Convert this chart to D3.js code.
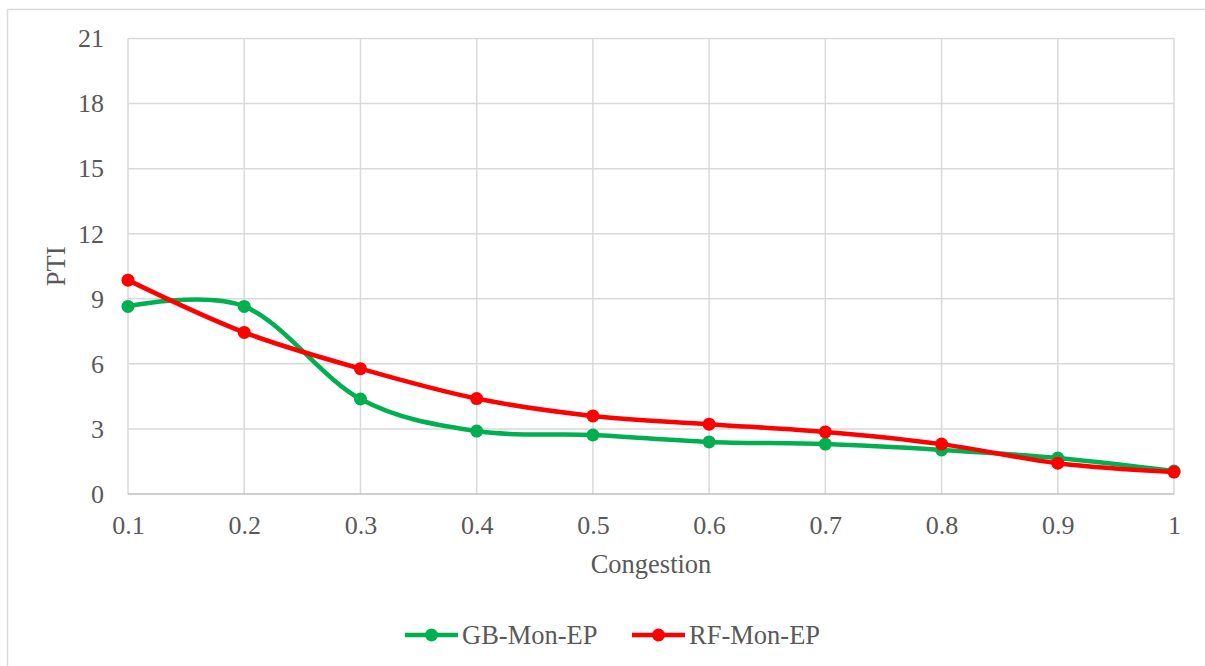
<!DOCTYPE html>
<html>
<head>
<meta charset="utf-8">
<script src="https://cdn.jsdelivr.net/npm/d3@7"></script>
<style>
  html, body { margin: 0; padding: 0; background: #fff; }
  svg { display: block; }
  text { font-family: "Liberation Serif", "Times New Roman", serif; fill: #595959; }
</style>
</head>
<body>
<svg id="chart" width="1205" height="666"></svg>
<script>
const congestion = [0.1, 0.2, 0.3, 0.4, 0.5, 0.6, 0.7, 0.8, 0.9, 1];
const gbMonEP = [8.65, 8.65, 4.38, 2.9, 2.72, 2.4, 2.3, 2.03, 1.66, 1.06];
const rfMonEP = [9.86, 7.45, 5.78, 4.4, 3.6, 3.22, 2.86, 2.3, 1.42, 1.01];
const yTicks = [0, 3, 6, 9, 12, 15, 18, 21];
const xTickLabels = ["0.1", "0.2", "0.3", "0.4", "0.5", "0.6", "0.7", "0.8", "0.9", "1"];
const seriesNames = ["GB-Mon-EP", "RF-Mon-EP"];
const seriesColors = ["#00B050", "#FF0000"];

const svg = d3.select("#chart");
const pLeft = 128, pRight = 1174, pTop = 38.5, pBottom = 494;

// outer chart border
svg.append("rect")
  .attr("x", 7.5).attr("y", 9.5)
  .attr("width", 1300).attr("height", 700)
  .attr("fill", "none").attr("stroke", "#d9d9d9").attr("stroke-width", 1.5);

const x = d3.scaleLinear().domain([0.1, 1]).range([pLeft, pRight]);
const y = d3.scaleLinear().domain([0, 21]).range([pBottom, pTop]);

// gridlines
const g = svg.append("g");
g.selectAll("line.hg").data(yTicks.filter(d => d > 0)).enter().append("line")
  .attr("x1", pLeft).attr("x2", pRight)
  .attr("y1", d => y(d)).attr("y2", d => y(d))
  .attr("stroke", "#d9d9d9").attr("stroke-width", 1.5);
g.selectAll("line.vg").data(congestion).enter().append("line")
  .attr("x1", d => x(d)).attr("x2", d => x(d))
  .attr("y1", pTop).attr("y2", pBottom)
  .attr("stroke", "#d9d9d9").attr("stroke-width", 1.5);
// x axis line
g.append("line").attr("x1", pLeft).attr("x2", pRight)
  .attr("y1", y(0)).attr("y2", y(0))
  .attr("stroke", "#bfbfbf").attr("stroke-width", 1.5);

// y axis labels
const yAxis = d3.axisLeft(y).tickValues(yTicks).tickSize(0).tickPadding(24).tickFormat(d3.format("d"));
svg.append("g").attr("transform", `translate(${pLeft},0)`).call(yAxis)
  .call(s => s.select(".domain").remove())
  .selectAll("text").attr("font-size", 26).attr("fill", "#595959")
  .attr("font-family", "Liberation Serif");

// x axis labels
const xAxis = d3.axisBottom(x).tickValues(congestion).tickSize(0).tickPadding(22)
  .tickFormat((d, i) => xTickLabels[i]);
svg.append("g").attr("transform", `translate(0,${pBottom})`).call(xAxis)
  .call(s => s.select(".domain").remove())
  .selectAll("text").attr("font-size", 26).attr("fill", "#595959")
  .attr("font-family", "Liberation Serif");

// axis titles
svg.append("text").attr("x", (pLeft + pRight) / 2).attr("y", 573)
  .attr("text-anchor", "middle").attr("font-size", 26.5).text("Congestion");
svg.append("text").attr("transform", `translate(65,${(pTop + pBottom) / 2}) rotate(-90)`)
  .attr("text-anchor", "middle").attr("font-size", 26.5).text("PTI");

// series
const line = d3.line().x((d, i) => x(congestion[i])).y(d => y(d)).curve(d3.curveCardinal.tension(0));
[gbMonEP, rfMonEP].forEach((vals, si) => {
  svg.append("path").datum(vals)
    .attr("d", line).attr("fill", "none")
    .attr("stroke", seriesColors[si]).attr("stroke-width", 4.5)
    .attr("stroke-linejoin", "round").attr("stroke-linecap", "round");
  svg.append("g").selectAll("circle").data(vals).enter().append("circle")
    .attr("cx", (d, i) => x(congestion[i])).attr("cy", d => y(d))
    .attr("r", 6.5).attr("fill", seriesColors[si]);
});

// legend
const legendItems = [{x0: 405, tx: 462}, {x0: 632, tx: 689}];
legendItems.forEach((it, i) => {
  const lg = svg.append("g");
  lg.append("line").attr("x1", it.x0).attr("x2", it.x0 + 53)
    .attr("y1", 635).attr("y2", 635)
    .attr("stroke", seriesColors[i]).attr("stroke-width", 4.5);
  lg.append("circle").attr("cx", it.x0 + 26.5).attr("cy", 635).attr("r", 6.5)
    .attr("fill", seriesColors[i]);
  lg.append("text").attr("x", it.tx).attr("y", 644).attr("font-size", 26.5).text(seriesNames[i]);
});
</script>
</body>
</html>
